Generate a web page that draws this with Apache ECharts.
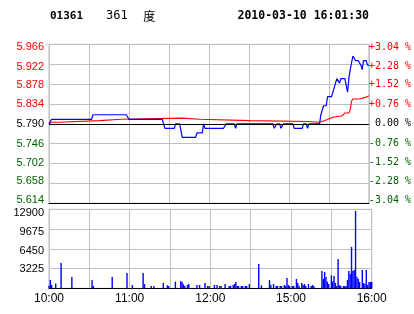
<!DOCTYPE html>
<html><head><meta charset="utf-8">
<script src="https://cdn.jsdelivr.net/npm/echarts@6/dist/echarts.min.js"></script>
<style>html,body{margin:0;padding:0;background:#fff}#c{width:414px;height:314px}</style>
</head><body><div id="c"></div>
<script>
const stockCode = '01361';
const stockNameNum = '361';
const stockNameChar = '度';
const timestamp = '2010-03-10 16:01:30';
const prevClose = 5.790;
const priceTicks = ['5.614','5.658','5.702','5.746','5.790','5.834','5.878','5.922','5.966'];
const pctTicks = ['-3.04 %','-2.28 %','-1.52 %','-0.76 %',' 0.00 %','+0.76 %','+1.52 %','+2.28 %','+3.04 %'];
const volTicks = ['', '3225', '6450', '9675', '12900'];
const timeLabels = ['10:00','11:00','12:00','15:00','16:00'];

const priceTimes = ['10:00','10:02','10:32','10:33','10:58','11:00','11:25','11:27','11:34','11:35','11:38','11:40','11:50','11:51','11:55','11:56','11:57','12:11','12:13','12:19','12:20','12:21','14:48','14:49','14:50','14:51','14:53','14:54','14:55','14:56','15:03','15:04','15:10','15:11','15:13','15:14','15:15','15:23','15:24','15:26','15:28','15:29','15:32','15:34','15:35','15:36','15:37','15:38','15:39','15:42','15:44','15:45','15:46','15:48','15:49','15:50','15:52','15:54','15:55','15:56','15:58','15:59','16:00'];
const priceValues = [5.79,5.80,5.80,5.81,5.81,5.80,5.80,5.78,5.78,5.79,5.79,5.76,5.76,5.77,5.77,5.79,5.78,5.78,5.79,5.79,5.78,5.79,5.79,5.78,5.78,5.79,5.79,5.78,5.78,5.79,5.79,5.78,5.78,5.79,5.79,5.78,5.79,5.79,5.81,5.83,5.83,5.85,5.85,5.87,5.88,5.89,5.89,5.88,5.89,5.89,5.86,5.89,5.91,5.94,5.94,5.93,5.93,5.92,5.91,5.93,5.93,5.92,5.92];

const avgTimes = ['10:00','10:02','10:07','10:08','10:38','10:39','10:54','10:55','11:40','11:41','11:53','11:54','14:31','14:32','15:15','15:16','15:23','15:24','15:29','15:33','15:34','15:40','15:42','15:45','15:46','15:47','15:48','15:53','15:54','15:58','15:59','16:00'];
const avgValues = [5.790,5.7935,5.7935,5.797,5.797,5.800,5.800,5.8025,5.8025,5.800,5.800,5.797,5.797,5.795,5.795,5.7935,5.7935,5.7957,5.7995,5.8045,5.808,5.808,5.814,5.814,5.821,5.840,5.845,5.845,5.849,5.849,5.852,5.852];

const volTimes = ['10:00','10:01','10:02','10:05','10:09','10:17','10:32','10:33','10:47','10:58','11:02','11:10','11:11','11:16','11:18','11:25','11:28','11:29','11:34','11:38','11:39','11:40','11:41','11:43','11:44','11:50','11:52','11:56','11:58','11:59','12:03','12:05','12:07','12:08','12:11','12:14','12:15','12:17','12:18','12:19','12:20','12:21','12:23','12:24','12:26','12:27','12:29','14:36','14:38','14:44','14:45','14:47','14:49','14:50','14:52','14:53','14:55','14:56','14:57','14:58','14:59','15:01','15:02','15:04','15:05','15:06','15:08','15:09','15:10','15:11','15:13','15:15','15:16','15:17','15:23','15:24','15:25','15:26','15:27','15:28','15:30','15:31','15:32','15:33','15:34','15:35','15:36','15:37','15:39','15:40','15:41','15:42','15:43','15:44','15:45','15:46','15:47','15:48','15:49','15:50','15:51','15:53','15:54','15:55','15:56','15:57','15:58','15:59','16:00'];
const volValues = [400,1360,540,800,4130,1850,1360,380,1850,2500,540,2500,700,380,380,870,490,380,1090,1200,1030,650,380,540,700,540,540,870,380,380,540,540,380,380,700,380,380,540,700,1030,380,380,380,380,380,380,700,3970,490,1360,540,700,380,380,380,380,540,380,1690,540,380,380,380,1525,870,380,870,540,700,380,700,380,540,380,2830,1525,2670,1850,1090,700,2120,1090,2010,870,380,4790,540,380,380,380,380,1360,2830,2340,6750,2830,3000,12630,1850,1525,1030,3000,870,700,3000,540,1030,1030,1030];

const RED = '#ff0000', GREEN = '#006400', GRAY = '#c0c0c0';
function toMin(t) { const p = t.split(':').map(Number); const v = p[0]*60 + p[1]; return v >= 870 ? v - 870 + 150 : v - 600; }
function pad2(n) { return (n < 10 ? '0' : '') + n; }
function minToLabel(m) { const v = m <= 150 ? 600 + m : 870 + m - 150; return Math.floor(v/60) + ':' + pad2(v % 60); }
const off = p => Math.round((p - prevClose) * 10000) / 10; // thousandths from prev close

const priceData = priceTimes.map((t, i) => [toMin(t), off(priceValues[i])]);
const avgData = avgTimes.map((t, i) => [toMin(t), off(avgValues[i])]);
const volData = volTimes.map((t, i) => [toMin(t), volValues[i]]);

const priceShift = [-3, -2.3, -0.7, 0, 0, 0, 0.7, 2.3, 3];
const volShift = [0, 0.7, 2.4, 2.7, 3.7];
function padFor(s) { return s >= 0 ? [2*s, 0, 0, 0] : [0, 0, -2*s, 0]; }
function colorFor(i) { return i > 4 ? RED : (i === 4 ? '#000' : GREEN); }
const richL = {}, richR = {}, richV = {};
for (let i = 0; i < 9; i++) {
  richL['p' + i] = { color: colorFor(i), fontSize: 11, fontFamily: 'Liberation Sans', padding: padFor(priceShift[i]) };
  richR['q' + i] = { color: colorFor(i), fontSize: 10, fontFamily: 'DejaVu Sans Mono', padding: padFor(priceShift[i]) };
}
for (let i = 0; i < 5; i++) {
  richV['v' + i] = { color: '#000', fontSize: 11, fontFamily: 'Liberation Sans', padding: padFor(volShift[i]) };
}
const pIdx = v => Math.round((v + 176) / 44);

const chart = echarts.init(document.getElementById('c'), null, { renderer: 'canvas' });
const xBase = {
  type: 'value', min: 0, max: 240, interval: 30,
  axisTick: { show: false },
  splitLine: { show: true, lineStyle: { color: GRAY, width: 1 } },
  axisLine: { show: true, onZero: false, lineStyle: { color: '#000', width: 1 } }
};
chart.setOption({
  animation: false,
  graphic: [
    { type: 'text', x: 50, y: 16, style: { text: stockCode, font: 'bold 11px "DejaVu Sans Mono"', fill: '#000', verticalAlign: 'middle' } },
    { type: 'text', x: 106, y: 16, style: { text: '{a|' + stockNameNum + '}{b|' + stockNameChar + '}', verticalAlign: 'middle',
        rich: { a: { fontFamily: 'DejaVu Sans Mono', fontSize: 12, fill: '#000', padding: [0, 15.5, 0, 0] }, b: { fontFamily: 'Noto Sans CJK SC', fontSize: 12, fill: '#000' } } } },
    { type: 'text', x: 237.5, y: 16, style: { text: timestamp, font: 'bold 11.5px "DejaVu Sans Mono"', fill: '#000', verticalAlign: 'middle' } }
  ],
  grid: [
    { left: 49, right: 42.3, top: 44.3, height: 159, show: true, borderColor: GRAY, borderWidth: 1, backgroundColor: 'transparent' },
    { left: 49, right: 42.3, top: 209.3, height: 79, show: true, borderColor: GRAY, borderWidth: 1, backgroundColor: 'transparent' }
  ],
  xAxis: [
    Object.assign({}, xBase, { gridIndex: 0, axisLabel: { show: false } }),
    Object.assign({}, xBase, { gridIndex: 1, axisLabel: { show: true, margin: 4, color: '#000', fontSize: 12, fontFamily: 'Liberation Sans', showMinLabel: true, showMaxLabel: true,
      formatter: v => { const l = minToLabel(v); return timeLabels.indexOf(l) >= 0 ? l : ''; } } })
  ],
  yAxis: [
    { type: 'value', gridIndex: 0, position: 'left', min: -176, max: 176, interval: 44,
      axisLine: { show: true, lineStyle: { color: GRAY } }, axisTick: { show: false },
      splitLine: { show: true, lineStyle: { color: GRAY, width: 1 } },
      axisLabel: { margin: 5, rich: richL, formatter: v => { const i = pIdx(v); return '{p' + i + '|' + priceTicks[i] + '}'; } } },
    { type: 'value', gridIndex: 0, position: 'right', min: -176, max: 176, interval: 44,
      axisLine: { show: true, lineStyle: { color: GRAY } }, axisTick: { show: false }, splitLine: { show: false },
      axisLabel: { margin: 0, rich: richR, formatter: v => { const i = pIdx(v); return '{q' + i + '|' + pctTicks[i] + '}'; } } },
    { type: 'value', gridIndex: 1, position: 'left', min: 0, max: 12900, interval: 3225,
      axisLine: { show: true, lineStyle: { color: GRAY } }, axisTick: { show: false },
      splitLine: { show: true, lineStyle: { color: GRAY, width: 1 } },
      axisLabel: { margin: 5, rich: richV, formatter: v => { const i = Math.round(v / 3225); return i === 0 ? '' : '{v' + i + '|' + volTicks[i] + '}'; } } }
  ],
  series: [
    { type: 'line', xAxisIndex: 0, yAxisIndex: 0, data: [], z: 1, silent: true,
      markLine: { silent: true, symbol: 'none', label: { show: false }, lineStyle: { color: '#000', width: 1, type: 'solid' }, data: [{ yAxis: 0 }] } },
    { name: 'avg', type: 'line', xAxisIndex: 0, yAxisIndex: 0, data: avgData, z: 3, showSymbol: false, symbol: 'none',
      lineStyle: { color: RED, width: 1.1 } },
    { name: 'price', type: 'line', xAxisIndex: 0, yAxisIndex: 0, data: priceData, z: 4, showSymbol: false, symbol: 'none',
      lineStyle: { color: '#0000ff', width: 1.2 } },
    { name: 'vol', type: 'bar', xAxisIndex: 1, yAxisIndex: 2, data: volData, barWidth: 1.4, itemStyle: { color: '#0000ff' } }
  ]
});
</script></body></html>
